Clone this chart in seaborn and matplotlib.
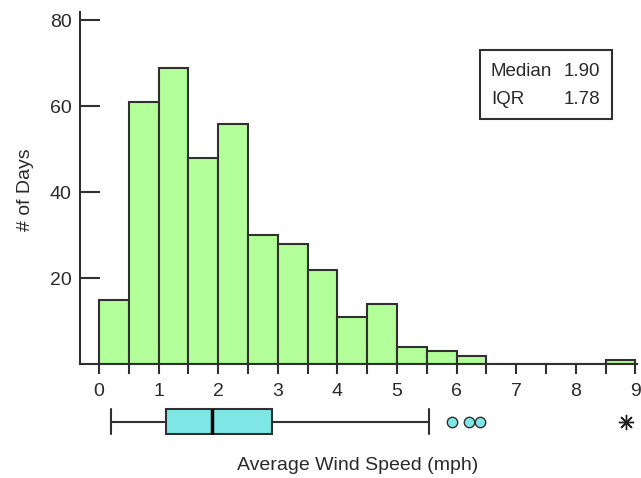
#%% import libraries
import matplotlib
matplotlib.use('Agg')
import matplotlib.pyplot as plt
import seaborn as sns
from matplotlib.patches import Rectangle

#%% data
bin_edges = [0, 0.5, 1, 1.5, 2, 2.5, 3, 3.5, 4, 4.5, 5, 5.5, 6, 6.5, 7, 7.5, 8, 8.5, 9]
day_counts = [15, 61, 69, 48, 56, 30, 28, 22, 11, 14, 4, 3, 2, 0, 0, 0, 0, 1]
bin_mids = [(a + b) / 2 for a, b in zip(bin_edges[:-1], bin_edges[1:])]

box_q1, box_med, box_q3 = 1.12, 1.90, 2.90
whisker_lo, whisker_hi = 0.20, 5.53
mild_outliers = [5.92, 6.20, 6.40]
extreme_outliers = [8.85]

stat_names = ['Median', 'IQR']
stat_values = ['1.90', '1.78']

#%% style
sns.set_style('white')
plt.rcParams['font.family'] = ['Liberation Sans', 'DejaVu Sans']
plt.rcParams['font.size'] = 14
edge = '#303030'
green = '#b3ff99'
cyan = '#7fe6e6'

#%% histogram
fig = plt.figure(figsize=(6.41, 4.78), dpi=100)
ax = fig.add_axes([80 / 641, (478 - 364.3) / 478, 561 / 641, 352 / 478])

sns.histplot(x=bin_mids, weights=day_counts, bins=bin_edges, color=green,
             edgecolor=edge, linewidth=1.5, alpha=1, ax=ax)

ax.set_xlim(-0.319, 9.094)
ax.set_ylim(0, 81.9)
ax.set_xticks(range(10))
ax.set_xticks(bin_edges, minor=True)
ax.set_yticks([20, 40, 60, 80])
ax.tick_params(axis='x', which='both', bottom=True, direction='out', length=7.5,
               width=1.5, color=edge, pad=6, labelcolor='#2a2a2a')
ax.tick_params(axis='y', left=True, direction='in', length=14.4, width=1.5,
               color=edge, pad=6, labelcolor='#2a2a2a')
for s in ['top', 'right']:
    ax.spines[s].set_visible(False)
for s in ['left', 'bottom']:
    ax.spines[s].set_color(edge)
    ax.spines[s].set_linewidth(1.5)
ax.spines['bottom'].set_bounds(-0.319, 9.02)

ax.set_ylabel('# of Days', color='#2a2a2a')
ax.yaxis.set_label_coords(-0.098, 0.495)
ax.yaxis.label.set_va('center')
ax.set_xlabel('Average Wind Speed (mph)', color='#2a2a2a')
ax.xaxis.set_label_coords(0.495, -0.288)
ax.xaxis.label.set_va('center')

#%% boxplot under the axis
ax_box = fig.add_axes([80 / 641, 35 / 478, 561 / 641, 43 / 478])
stats = [{'med': box_med, 'q1': box_q1, 'q3': box_q3,
          'whislo': whisker_lo, 'whishi': whisker_hi, 'fliers': mild_outliers}]
ax_box.bxp(stats, positions=[0], widths=1.16, capwidths=1.16,
           orientation='horizontal', patch_artist=True,
           boxprops=dict(facecolor=cyan, edgecolor=edge, linewidth=1.5),
           medianprops=dict(color='black', linewidth=2.5),
           whiskerprops=dict(color=edge, linewidth=1.5),
           capprops=dict(color=edge, linewidth=1.5),
           flierprops=dict(marker='o', markerfacecolor=cyan,
                           markeredgecolor=edge, markersize=7.5))
ax_box.plot(extreme_outliers, [0] * len(extreme_outliers), linestyle='none',
            marker=(8, 2, 0), markersize=11, color='#222', markeredgewidth=1.0)
ax_box.set_xlim(ax.get_xlim())
ax_box.set_ylim(-1, 1)
ax_box.axis('off')

#%% stats box
fig.patches.append(Rectangle((480 / 641, 1 - 119 / 478), 132 / 641, 69 / 478,
                             transform=fig.transFigure, fill=False,
                             edgecolor=edge, linewidth=1.5))
for i, (name, val) in enumerate(zip(stat_names, stat_values)):
    y = 1 - (72 + 28 * i) / 478
    fig.text(491 / 641, y, name, ha='left', va='center', color='#2a2a2a',
             fontsize=13.5)
    fig.text(600 / 641, y, val, ha='right', va='center', color='#2a2a2a',
             fontsize=13.5)

fig.savefig('out.png', dpi=100)
